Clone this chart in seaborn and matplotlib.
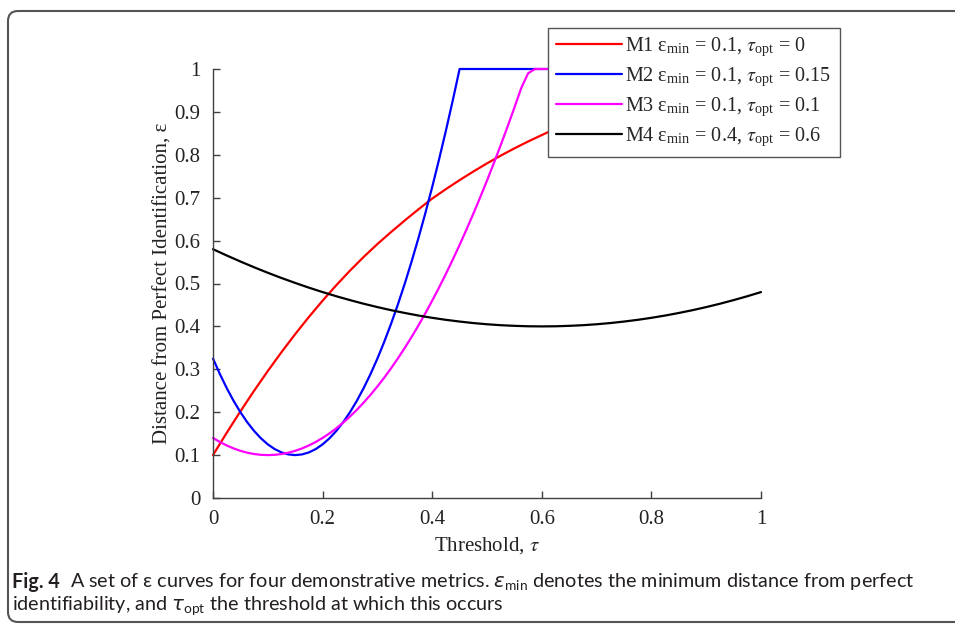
import numpy as np
import matplotlib
matplotlib.use('Agg')
import matplotlib.pyplot as plt
from matplotlib.patches import FancyBboxPatch
import seaborn as sns

# thresholds at which each curve was read
tau_m1 = np.linspace(0, 1, 41)
tau_m2 = np.append(np.linspace(0, 0.45, 37), 1.0)
tau_m3 = np.append(np.linspace(0, 0.5625, 46), [0.575, 0.5875, 1.0])
tau_m4 = np.linspace(0, 1, 41)

# epsilon values
m1 = [0.100, 0.152, 0.202, 0.250, 0.296, 0.340, 0.382, 0.422, 0.460, 0.496,
      0.530, 0.562, 0.592, 0.620, 0.647, 0.673, 0.698, 0.720, 0.741, 0.761,
      0.780, 0.798, 0.815, 0.831, 0.846, 0.861, 0.875, 0.888, 0.900, 0.911,
      0.921, 0.930, 0.938, 0.945, 0.951, 0.956, 0.960, 0.963, 0.965, 0.966,
      0.966]
m2 = [0.3250, 0.2891, 0.2563, 0.2266, 0.2000, 0.1766, 0.1563, 0.1391, 0.1250,
      0.1141, 0.1063, 0.1016, 0.1000, 0.1016, 0.1063, 0.1141, 0.1250, 0.1391,
      0.1563, 0.1766, 0.2000, 0.2266, 0.2563, 0.2891, 0.3250, 0.3641, 0.4063,
      0.4516, 0.5000, 0.5516, 0.6063, 0.6641, 0.7250, 0.7891, 0.8563, 0.9266,
      1.0000, 1.0000]
m3 = [0.1400, 0.1306, 0.1225, 0.1156, 0.1100, 0.1056, 0.1025, 0.1006, 0.1000,
      0.1006, 0.1025, 0.1056, 0.1100, 0.1156, 0.1225, 0.1306, 0.1400, 0.1506,
      0.1625, 0.1756, 0.1900, 0.2056, 0.2225, 0.2406, 0.2600, 0.2806, 0.3025,
      0.3256, 0.3500, 0.3756, 0.4025, 0.4306, 0.4600, 0.4906, 0.5225, 0.5556,
      0.5900, 0.6256, 0.6625, 0.7006, 0.7400, 0.7806, 0.8225, 0.8656, 0.9100,
      0.9556, 0.9900, 1.0000, 1.0000]
m4 = [0.5800, 0.5653, 0.5513, 0.5378, 0.5250, 0.5128, 0.5013, 0.4903, 0.4800,
      0.4703, 0.4613, 0.4528, 0.4450, 0.4378, 0.4313, 0.4253, 0.4200, 0.4153,
      0.4113, 0.4078, 0.4050, 0.4028, 0.4013, 0.4003, 0.4000, 0.4003, 0.4013,
      0.4028, 0.4050, 0.4078, 0.4113, 0.4153, 0.4200, 0.4253, 0.4313, 0.4378,
      0.4450, 0.4528, 0.4613, 0.4703, 0.4800]

labels = [r'M1 ε$_\mathregular{min}$ = 0.1, $\tau_\mathregular{opt}$ = 0',
          r'M2 ε$_\mathregular{min}$ = 0.1, $\tau_\mathregular{opt}$ = 0.15',
          r'M3 ε$_\mathregular{min}$ = 0.1, $\tau_\mathregular{opt}$ = 0.1',
          r'M4 ε$_\mathregular{min}$ = 0.4, $\tau_\mathregular{opt}$ = 0.6']
colors = ['#ff0000', '#0000ff', '#ff00ff', '#000000']

sns.set_style('ticks')
plt.rcParams['font.family'] = ['Liberation Serif', 'DejaVu Serif']
plt.rcParams['mathtext.fontset'] = 'stix'

W, H = 955, 624
fig = plt.figure(figsize=(W / 100, H / 100), dpi=100)
ax = fig.add_axes([213 / W, 1 - 498 / H, 548 / W, 429 / H])

series = zip([tau_m1, tau_m2, tau_m3, tau_m4], [m1, m2, m3, m4], colors, labels)
for t, vals, col, lab in series:
    sns.lineplot(x=t, y=vals, color=col, lw=1.6, label=lab, ax=ax, clip_on=False)

ax.set_xlim(0, 1)
ax.set_ylim(0, 1)
ax.set_xticks(np.arange(0, 1.01, 0.2))
ax.set_yticks(np.arange(0, 1.01, 0.1))
ax.xaxis.set_major_formatter(plt.FormatStrFormatter('%g'))
ax.yaxis.set_major_formatter(plt.FormatStrFormatter('%g'))
ax.tick_params(direction='in', length=5, width=1, color='#404040',
               labelsize=15, labelcolor='#222222', pad=9)
sns.despine(ax=ax)
for s in ['left', 'bottom']:
    ax.spines[s].set_color('#404040')
    ax.spines[s].set_linewidth(1)

ax.set_xlabel(r'Threshold, $\tau$', fontsize=15, labelpad=4, color='#222222')
ax.set_ylabel('Distance from Perfect Identification, ε', fontsize=15,
              labelpad=1, color='#222222')

leg = ax.legend(loc='upper left', bbox_to_anchor=(0.611, 1.096),
                borderaxespad=0, frameon=True, fancybox=False, framealpha=1,
                fontsize=14.5, handlelength=3.3, labelspacing=0.34,
                borderpad=0.4, handletextpad=0.15)
leg.get_frame().set_edgecolor('#555555')
leg.get_frame().set_linewidth(1)

# rounded panel border
fig.patches.append(FancyBboxPatch((0.08, 0.02), 9.8, 6.11,
                                  boxstyle='round,pad=0,rounding_size=0.1',
                                  transform=fig.dpi_scale_trans, fill=False,
                                  ec='#555555', lw=1.5))

cap = dict(family=['Lato', 'DejaVu Sans'], size=14.2, color='#231f20',
           math_fontfamily='dejavusans')
t1 = fig.text(12 / W, 1 - 588 / H, 'Fig. 4', fontweight='bold', **cap)
fig.canvas.draw()
x1 = t1.get_window_extent().x1
fig.text((x1 + 10) / W, 1 - 588 / H,
         r'A set of ε curves for four demonstrative metrics. '
         r'$\varepsilon_\mathregular{min}$ denotes the minimum distance from perfect',
         **cap)
fig.text(12 / W, 1 - 611 / H,
         r'identifiability, and $\tau_\mathregular{opt}$ the threshold at which this occurs',
         **cap)

fig.savefig('out.png', dpi=100)
